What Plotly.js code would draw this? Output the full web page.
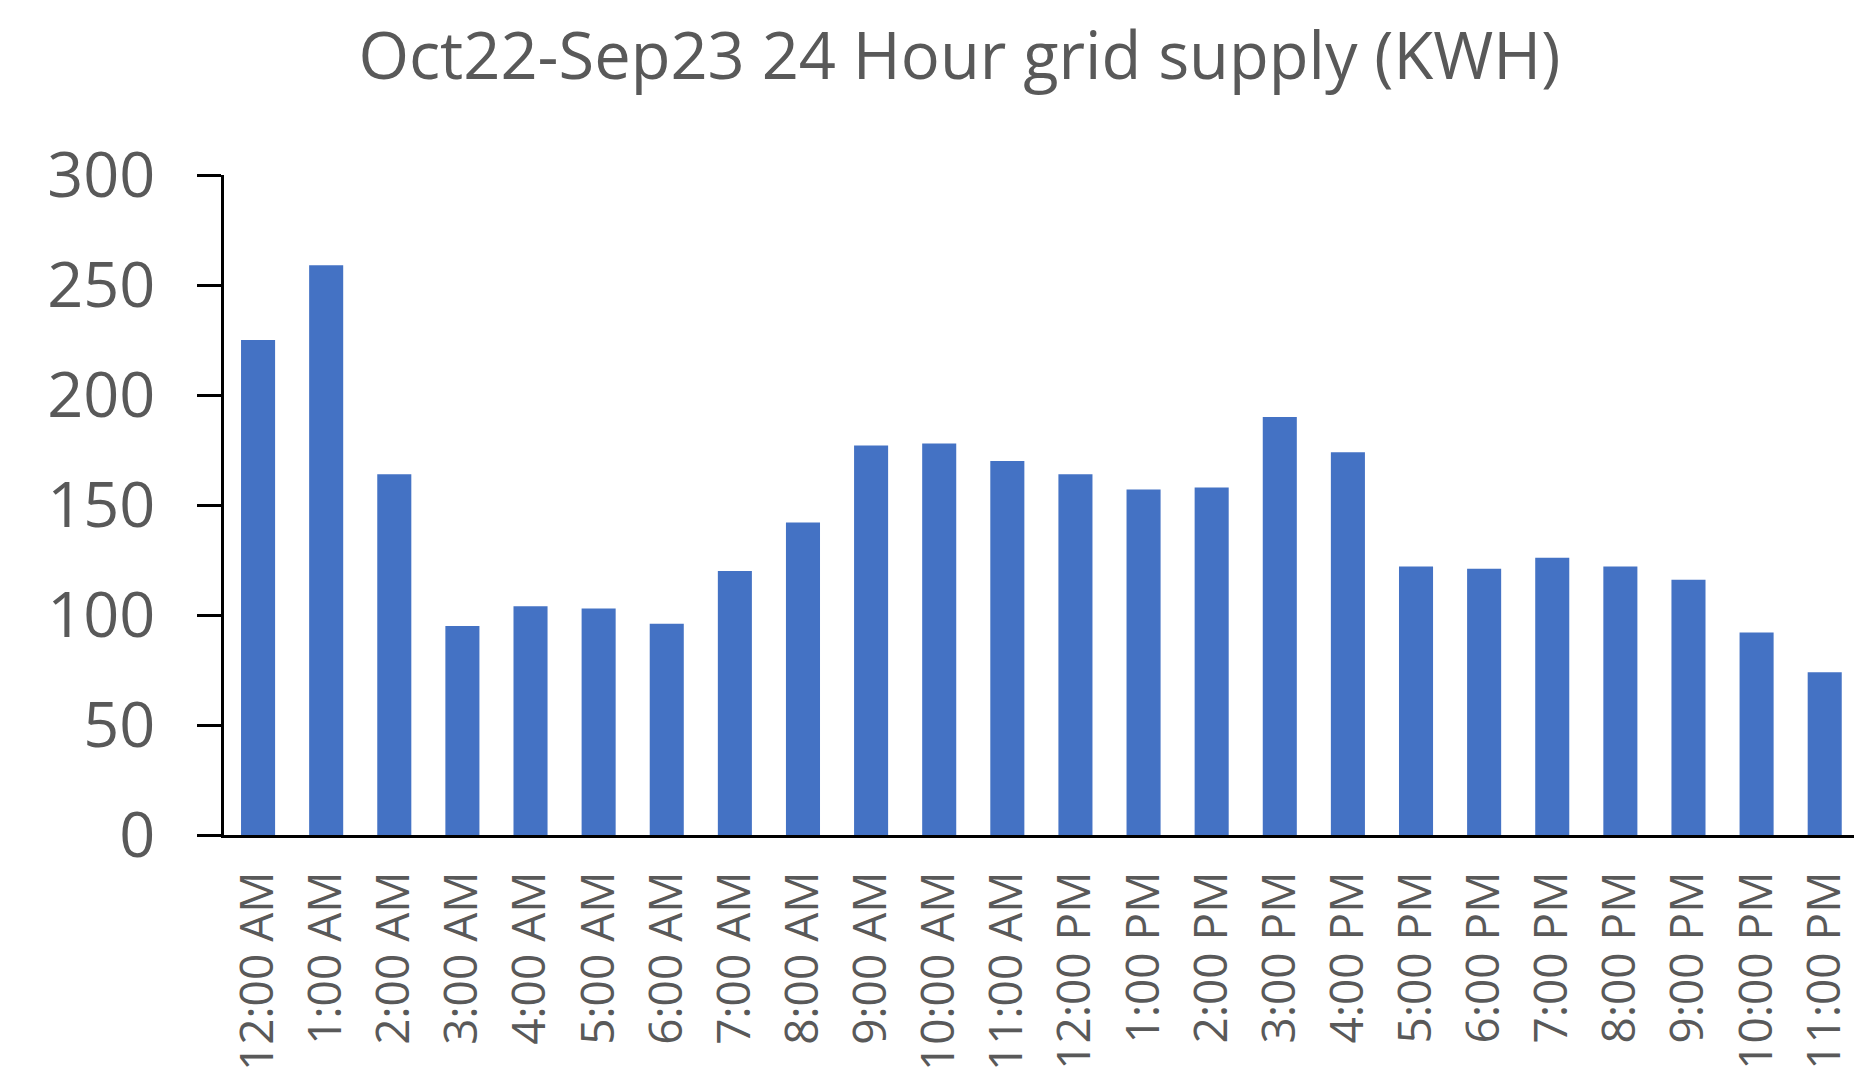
<!DOCTYPE html>
<html>
<head>
<meta charset="utf-8">
<script src="https://cdn.plot.ly/plotly-3.0.1.min.js"></script>
<style>html,body{margin:0;padding:0;background:#fff;}#chart{width:1854px;height:1075px;}</style>
</head>
<body>
<div id="chart"></div>
<script>
const hours = ["12:00 AM","1:00 AM","2:00 AM","3:00 AM","4:00 AM","5:00 AM","6:00 AM","7:00 AM","8:00 AM","9:00 AM","10:00 AM","11:00 AM","12:00 PM","1:00 PM","2:00 PM","3:00 PM","4:00 PM","5:00 PM","6:00 PM","7:00 PM","8:00 PM","9:00 PM","10:00 PM","11:00 PM"];
const supplyKWH = [225,259,164,95,104,103,96,120,142,177,178,170,164,157,158,190,174,122,121,126,122,116,92,74];
const yTicks = [0,50,100,150,200,250,300];

const trace = {
  type: 'bar',
  x: hours,
  y: supplyKWH,
  marker: {color: '#4472C4'},
  width: 0.5,
  hoverinfo: 'x+y'
};

const layout = {
  width: 1854,
  height: 1075,
  margin: {l: 224, r: 0, t: 175, b: 240, pad: 0},
  paper_bgcolor: '#ffffff',
  plot_bgcolor: '#ffffff',
  showlegend: false,
  font: {family: 'Open Sans, sans-serif', color: '#595959'},
  title: {
    text: 'Oct22-Sep23 24 Hour grid supply (KWH)',
    font: {family: 'Open Sans, sans-serif', size: 65, color: '#595959'},
    x: 0.5175, xref: 'container', xanchor: 'center',
    y: 1 - 56/1075, yref: 'container', yanchor: 'middle'
  },
  xaxis: {
    type: 'category',
    range: [-0.5, 23.43],
    showline: true, linecolor: '#000000', linewidth: 3,
    ticks: '', showgrid: false, zeroline: false,
    tickangle: -90,
    tickfont: {family: 'Open Sans, sans-serif', size: 46, color: '#595959'},
    ticklabelstandoff: 15,
    fixedrange: true
  },
  yaxis: {
    range: [0, 300],
    tickvals: yTicks,
    ticktext: yTicks.map(String),
    showline: true, linecolor: '#000000', linewidth: 3,
    ticks: 'outside', ticklen: 24, tickwidth: 3, tickcolor: '#000000',
    showgrid: false, zeroline: false,
    tickfont: {family: 'Open Sans, sans-serif', size: 63, color: '#595959'},
    ticklabelstandoff: 29,
    fixedrange: true
  }
};

Plotly.newPlot('chart', [trace], layout, {displayModeBar: false, staticPlot: true});
</script>
</body>
</html>
